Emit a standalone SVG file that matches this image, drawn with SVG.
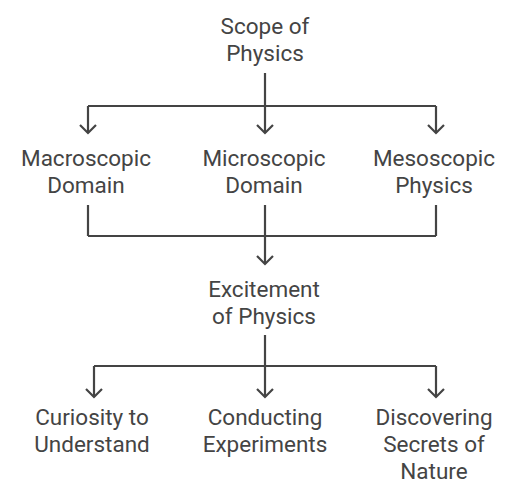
<svg xmlns="http://www.w3.org/2000/svg" width="518" height="500" viewBox="0 0 518 500">
<style>
text{font-family:Roboto,"Liberation Sans",sans-serif;font-size:22.5px;fill:#444;text-anchor:middle}
.c{fill:none;stroke:#444;stroke-width:2.2}
</style>
<rect width="518" height="500" fill="#fff"/>
<g id="connectors" class="c">
<path d="M265 73V106M88 106H436M88 106V133M265 106V133M436 106V133"/>
<path d="M80 125L88 133L96 125M257 125L265 133L273 125M428 125L436 133L444 125"/>
<path d="M88 205V236M265 205V264M436 205V236M88 236H436"/>
<path d="M257 256L265 264L273 256"/>
<path d="M265 335V366M94 366H436M94 366V397M265 366V397M436 366V397"/>
<path d="M86 389L94 397L102 389M257 389L265 397L273 389M428 389L436 397L444 389"/>
</g>
<g id="scope"><text x="265" y="34">Scope of</text><text x="265" y="61">Physics</text></g>
<g id="macro"><text x="86" y="166">Macroscopic</text><text x="86" y="193">Domain</text></g>
<g id="micro"><text x="264" y="166">Microscopic</text><text x="264" y="193">Domain</text></g>
<g id="meso"><text x="434" y="166">Mesoscopic</text><text x="434" y="193">Physics</text></g>
<g id="excitement"><text x="264" y="297">Excitement</text><text x="264" y="324">of Physics</text></g>
<g id="curiosity"><text x="92" y="425">Curiosity to</text><text x="92" y="452">Understand</text></g>
<g id="conducting"><text x="265" y="425">Conducting</text><text x="265" y="452">Experiments</text></g>
<g id="discovering"><text x="434" y="425">Discovering</text><text x="434" y="452">Secrets of</text><text x="434" y="479">Nature</text></g>
</svg>
